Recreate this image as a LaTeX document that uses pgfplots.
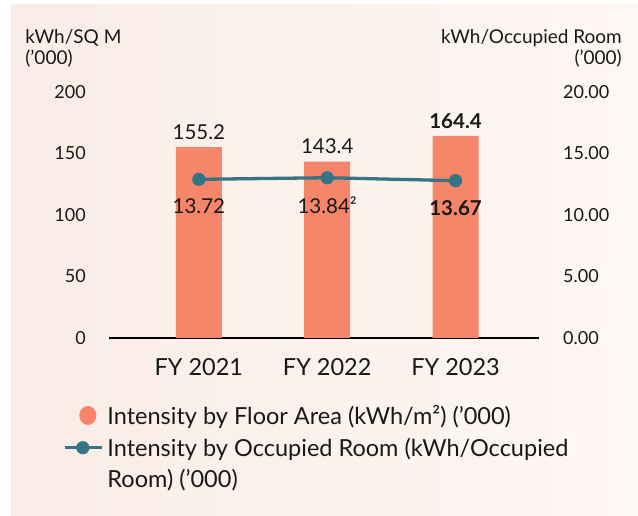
\documentclass[border=0pt]{standalone}
\usepackage{pgfplots}
\pgfplotsset{compat=1.18}
\usepackage{fontspec}
\setmainfont{Lato}
\definecolor{barcol}{RGB}{245,134,106}
\definecolor{linecol}{RGB}{53,115,135}
\definecolor{txt}{RGB}{25,25,25}
\definecolor{bgl}{RGB}{250,236,230}
\definecolor{bgr}{RGB}{253,247,244}
\pgfplotsset{
  lineleg/.style={legend image code/.code={\draw[mark repeat=2,mark phase=2,##1] plot coordinates {(0pt,15.5pt) (18pt,15.5pt) (37pt,15.5pt)};}},
  barleg/.style={legend image code/.code={\path[draw=none,fill=none] (0pt,0pt) -- (37pt,0pt); \fill[barcol, draw=none] (23pt,0pt) ellipse (8.5pt and 9.5pt);}},
}
\begin{document}
\begin{tikzpicture}
\fill[white] (0,0) rectangle (638pt,516pt);
\shade[left color=bgl, right color=bgr] (11pt,0pt) rectangle (638pt,511pt);
\begin{axis}[
  at={(109pt,178pt)}, anchor=south west,
  scale only axis, width=430pt, height=246pt,
  xmin=-0.7, xmax=2.65, ymin=0, ymax=200,
  clip=false,
  axis lines*=left,
  x axis line style={line width=1.4pt, black},
  y axis line style={draw=none},
  major tick length=0pt,
  xtick={0,1,2}, xticklabels={FY 2021, FY 2022, FY 2023},
  ytick={0,50,100,150,200},
  /pgf/number format/assume math mode=true,
  xticklabel style={font=\fontsize{23.5}{27}\selectfont, text=txt, inner sep=0pt, anchor=center, yshift=-29pt},
  yticklabel style={font=\fontsize{18}{20}\selectfont, text=txt, inner sep=0pt, anchor=east, xshift=-23pt},
  ylabel={kWh/SQ M\\('000)},
  every axis y label/.style={at={(axis description cs:-0.195,1.256)}, anchor=north west, align=left, inner sep=0pt, font=\fontsize{19}{21}\selectfont, text=txt},
  ybar, bar width=46pt,
  nodes near coords, point meta=explicit symbolic,
  every node near coord/.append style={font=\fontsize{20.5}{24}\selectfont, text=txt, anchor=center, inner sep=0pt, yshift=15pt},
]
\addplot[fill=barcol, draw=none] coordinates {(0,155.2) [155.2] (1,143.4) [143.4] (2,164.4) [\textbf{164.4}]};
\end{axis}
\begin{axis}[
  at={(109pt,178pt)}, anchor=south west,
  scale only axis, width=430pt, height=246pt,
  xmin=-0.7, xmax=2.65, ymin=0, ymax=20,
  clip=false,
  axis x line=none, axis y line*=right,
  y axis line style={draw=none},
  major tick length=0pt,
  ytick={0,5,10,15,20},
  /pgf/number format/assume math mode=true,
  yticklabel style={/pgf/number format/.cd, fixed, fixed zerofill, precision=2, /tikz/.cd, font=\fontsize{18}{20}\selectfont, text=txt, inner sep=0pt, anchor=west, xshift=24pt},
  ylabel={kWh/Occupied Room\\('000)},
  every axis y label/.style={at={(axis description cs:1.193,1.256)}, anchor=north east, align=right, inner sep=0pt, font=\fontsize{19}{21}\selectfont, text=txt},
  legend style={draw=none, fill=none, inner sep=0pt, at={(axis description cs:-0.107,-0.272)}, anchor=north west, font=\fontsize{23.5}{31}\selectfont, text=txt, row sep=12pt, column sep=4pt, nodes={inner sep=0pt}, cells={align=left}},
  legend cell align=left,
]
\addlegendimage{barleg}
\addlegendentry{Intensity by Floor Area (kWh/m²) ('000)}
\addplot[color=linecol, line width=3.3pt, mark=*, mark size=6.5pt, mark options={solid, fill=linecol, line width=0.1pt},
  nodes near coords, point meta=explicit symbolic,
  every node near coord/.append style={font=\fontsize{20.5}{24}\selectfont, text=txt, anchor=center, inner sep=0pt, yshift=-27pt},
  lineleg]
  coordinates {(0,12.9) [13.72] (1,13.03) [13.84²] (2,12.79) [\textbf{13.67}]};
\addlegendentry{Intensity by Occupied Room (kWh/Occupied\\Room) ('000)}
\end{axis}
\end{tikzpicture}
\end{document}
